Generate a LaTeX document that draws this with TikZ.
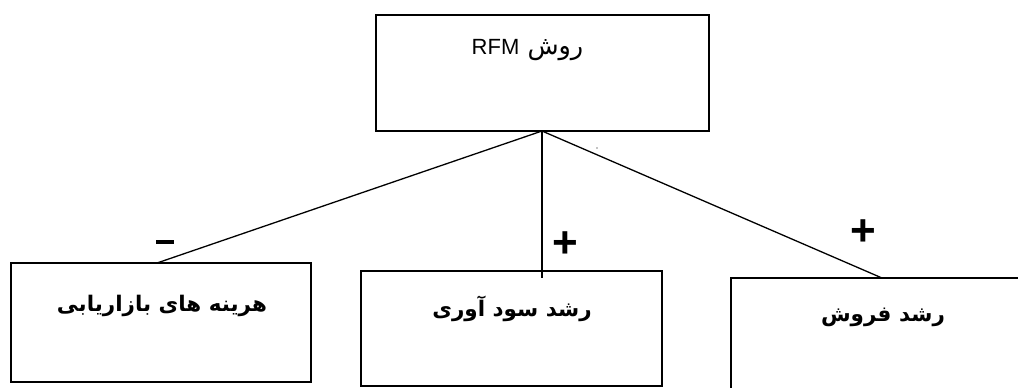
\documentclass[tikz,border=0pt]{standalone}
\usepackage{fontspec}
\setmainfont{Liberation Sans}
\newfontfamily\arabicfont[Script=Arabic]{DejaVu Sans}
\TeXXeTstate=1
\begin{document}
\begin{tikzpicture}[x=1pt,y=-1pt,
  box/.style={draw,line width=1.4pt},
  link/.style={line width=1.3pt},
  label/.style={font=\fontsize{21.5}{24}\selectfont\arabicfont\bfseries},
  sign/.style={font=\fontsize{44}{46}\selectfont\bfseries,inner sep=0pt}]
\useasboundingbox (0,0) rectangle (1018,388);
\clip (0,0) rectangle (1018,388);
% top box
\draw[box] (376,15) rectangle (709,131);
\node (top) at (527.5,50) {\fontsize{25.5}{28}\selectfont\arabicfont\beginR روش \beginL\rmfamily\fontsize{22}{24}\selectfont RFM\endL\endR};
\coordinate (apex) at (542,131);
% child boxes
\draw[box] (11,263) rectangle (311,382);
\draw[box] (361,271) rectangle (662,386);
\draw[box] (731,278) rectangle (1030,400);
\node[label] (a) at (162,306) {\beginR هرینه های بازاریابی\endR};
\node[label] (b) at (512,309) {\beginR رشد سود آوری\endR};
\node[label] (c) at (883,317) {\beginR رشد فروش\endR};
% connectors
\coordinate (ea) at (157,263);
\coordinate (eb) at (542,278);
\coordinate (ec) at (882,278);
\draw[link] (apex) -- (ea);
\draw[link] (apex) -- (eb);
\draw[link] (apex) -- (ec);
% signs
\node (ma) at (165,242) {\rule{18pt}{4pt}};
\node[sign] (pb) at (565,245) {+};
\node[sign] (pc) at (863,233) {+};
\fill (597,148) circle (0.6);
\end{tikzpicture}
\end{document}
